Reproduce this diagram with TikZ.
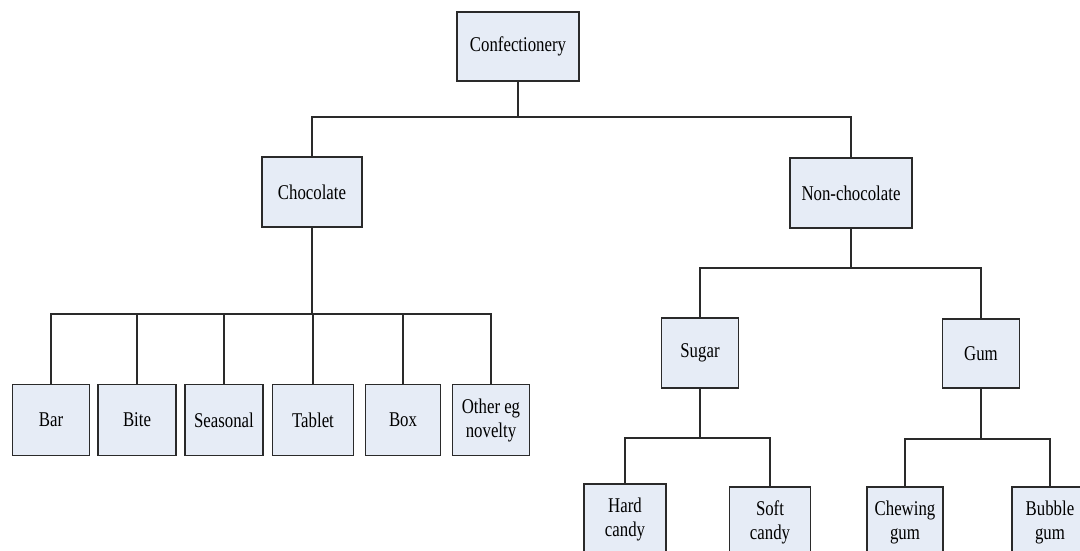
\documentclass[tikz,border=0pt]{standalone}
\usepackage{fontspec}
\setmainfont{Liberation Serif}[FakeStretch=0.8]
\usepackage{tikz}
\definecolor{TreeFill}{HTML}{E6ECF6}
\definecolor{TreeInk}{HTML}{2A2A2A}

\begin{document}
\begin{tikzpicture}[x=1pt,y=-1pt,
  catbox/.style={draw=TreeInk,line width=1.6pt,fill=TreeFill,inner sep=2pt,align=center,
    font=\fontsize{21}{24}\selectfont},
  link/.style={draw=TreeInk,line width=1.5pt}]
  \useasboundingbox (0,0) rectangle (1080,550);
  \clip (0,0) rectangle (1080,550);
  % top levels
  \node[catbox,minimum width=122pt,minimum height=69pt] (conf) at (518,46.5) {Confectionery};
  \node[catbox,minimum width=100pt,minimum height=70pt] (choc) at (312,192) {Chocolate};
  \node[catbox,minimum width=122pt,minimum height=70pt] (nonchoc) at (851,193) {Non-chocolate};
  % chocolate kinds
  \foreach \name/\x/\w/\txt in {bar/51/77/Bar,bite/137/78/Bite,seas/224/78/Seasonal,
      tablet/313/81/Tablet,box/403/75/Box,other/491/77/{Other eg\\novelty}}{
    \node[catbox,minimum width=\w pt,minimum height=71pt] (\name) at (\x,420) {\txt};
  }
  % non-chocolate kinds
  \node[catbox,minimum width=77pt,minimum height=70pt] (sugar) at (700,353) {Sugar};
  \node[catbox,minimum width=77pt,minimum height=69pt] (gum) at (981,353.5) {Gum};
  \node[catbox,minimum width=82pt,minimum height=70pt] (hard) at (625,519) {Hard\\candy};
  \node[catbox,minimum width=81pt,minimum height=70pt] (soft) at (770,522) {Soft\\candy};
  \node[catbox,minimum width=76pt,minimum height=70pt] (chew) at (905,522) {Chewing\\gum};
  \node[catbox,minimum width=76pt,minimum height=70pt] (bubble) at (1050,522) {Bubble\\gum};
  % connectors
  \coordinate (topbus) at (518,117);
  \draw[link] (conf.south) -- (topbus);
  \draw[link] (choc.north) |- (topbus) -| (nonchoc.north);
  \coordinate (chocbus) at (312,314);
  \draw[link] (choc.south) -- (chocbus);
  \foreach \name in {bar,bite,seas,tablet,box,other}
    \draw[link] (chocbus) -| (\name.north);
  \coordinate (ncbus) at (851,268);
  \draw[link] (nonchoc.south) -- (ncbus);
  \foreach \name in {sugar,gum}
    \draw[link] (ncbus) -| (\name.north);
  \coordinate (sugarbus) at (700,438);
  \draw[link] (sugar.south) -- (sugarbus);
  \foreach \name in {hard,soft}
    \draw[link] (sugarbus) -| (\name.north);
  \coordinate (gumbus) at (981,439);
  \draw[link] (gum.south) -- (gumbus);
  \foreach \name in {chew,bubble}
    \draw[link] (gumbus) -| (\name.north);
\end{tikzpicture}
\end{document}
